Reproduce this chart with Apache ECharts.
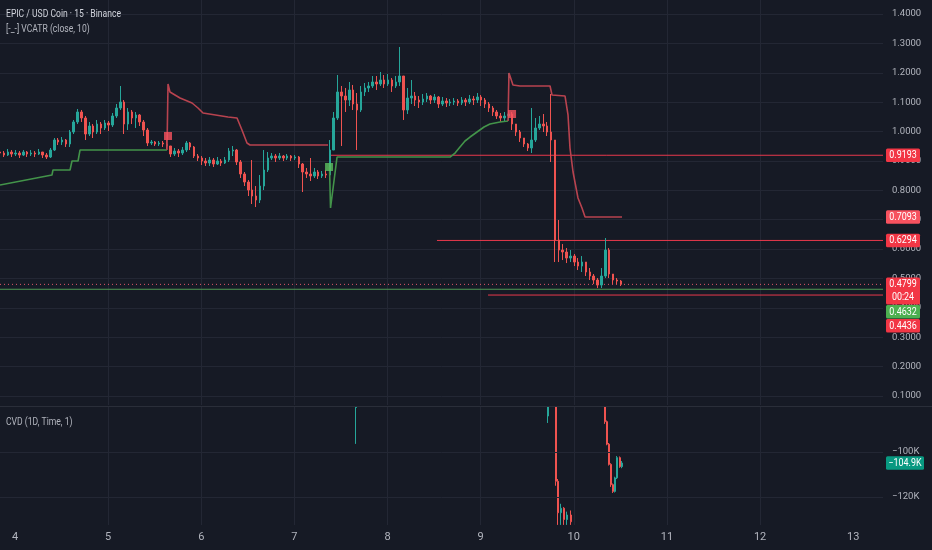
<!DOCTYPE html>
<html><head><meta charset="utf-8">
<script src="https://cdn.jsdelivr.net/npm/echarts@6/dist/echarts.min.js"></script>
<style>html,body{margin:0;padding:0;background:#161a25;}#c{width:932px;height:550px;}</style>
</head><body><div id="c"></div>
<script>
// ---- data ----
const t0 = 3.839;            // day of first hourly candle
const step = 1 / 24;         // one hour
const firstOpen = 0.9303;
const close = [
0.9269,0.9201,0.9303,0.9235,0.9269,0.9201,0.9303,0.9235,0.9269,0.9235,
0.9303,0.9201,0.9133,0.9371,0.9712,0.9644,0.9712,0.9576,0.9984,1.0325,
1.0665,1.0461,0.9916,1.0188,0.9984,1.0256,1.0120,1.0291,1.0222,1.0529,
1.0801,1.1005,1.0256,1.0665,1.0461,1.0563,1.0325,1.0052,0.9610,0.9644,
0.9576,0.9610,0.9576,0.9508,0.9235,0.9337,0.9269,0.9371,0.9610,0.9474,
0.9167,0.9099,0.8997,0.8929,0.9031,0.8895,0.8997,0.8929,0.9031,0.9337,
0.9371,0.8963,0.8555,0.8282,0.8010,0.7806,0.7670,0.8146,0.8691,0.9099,
0.9167,0.9099,0.9167,0.9099,0.9167,0.9099,0.9133,0.8895,0.8623,0.8555,
0.8487,0.8623,0.8487,0.8555,0.8521,0.9371,1.0461,1.1346,1.1209,1.1073,
1.1414,1.0937,1.0733,1.1346,1.1482,1.1550,1.1686,1.1618,1.1754,1.1618,
1.1754,1.1550,1.1686,1.1890,1.0733,1.1141,1.1209,1.1073,1.1005,1.1107,
1.1209,1.1073,1.1175,1.0937,1.1039,1.0971,1.1005,1.1039,1.0971,1.1073,
1.1005,1.1107,1.1073,1.1175,1.1073,1.0937,1.0801,1.0665,1.0529,1.0461,
1.0529,1.0597,1.0256,0.9984,0.9780,0.9576,0.9440,0.9712,1.0120,1.0256,
1.0188,0.9984,0.9712,0.6308,0.5968,0.5900,0.5695,0.5763,0.5559,0.5423,
0.5559,0.5219,0.5083,0.4947,0.4776,0.5083,0.5968,0.5151,0.4947,0.4913,0.4799];
const high = [
0.9371,0.9337,0.9406,0.9371,0.9371,0.9337,0.9371,0.9337,0.9371,0.9337,
0.9406,0.9303,0.9269,0.9440,0.9780,0.9780,0.9814,0.9746,1.0052,1.0393,
1.0767,1.0733,1.0529,1.0325,1.0256,1.0393,1.0325,1.0393,1.0359,1.0631,
1.0937,1.1550,1.1073,1.0801,1.0733,1.0665,1.0597,1.0393,1.0120,0.9712,
0.9678,0.9678,0.9678,0.9712,0.9508,0.9440,0.9406,0.9474,0.9678,0.9644,
0.9508,0.9235,0.9167,0.9099,0.9133,0.9099,0.9133,0.9065,0.9133,0.9440,
0.9508,0.9406,0.9031,0.8623,0.8350,0.9031,0.8146,0.8521,0.9371,0.9303,
0.9269,0.9235,0.9269,0.9201,0.9235,0.9201,0.9201,0.9167,0.8929,0.8759,
0.9099,0.8759,0.8691,0.8657,0.8691,0.9712,1.0665,1.1924,1.1550,1.1482,
1.1686,1.1584,1.1312,1.1550,1.1652,1.1686,1.1890,1.1890,1.2026,1.1924,
1.1958,1.1822,1.1890,1.2877,1.1890,1.1482,1.1754,1.1346,1.1209,1.1278,
1.1312,1.1244,1.1278,1.1209,1.1175,1.1141,1.1107,1.1141,1.1107,1.1175,
1.1141,1.1244,1.1209,1.1312,1.1244,1.1141,1.1005,1.0869,1.0733,1.0631,
1.0665,1.1992,1.0665,1.0256,1.0052,0.9780,0.9610,1.0801,1.0461,1.0529,
1.0597,1.0325,1.1278,0.9712,0.6989,0.6172,0.6036,0.5968,0.5832,0.5695,
0.5763,0.5559,0.5355,0.5151,0.5015,0.5355,0.6376,0.6036,0.5151,0.5015,0.4947];
const low = [
0.9167,0.9133,0.9167,0.9133,0.9167,0.9099,0.9167,0.9133,0.9167,0.9133,
0.9201,0.9099,0.9065,0.9099,0.9337,0.9542,0.9542,0.9474,0.9474,0.9916,
1.0256,1.0325,0.9712,0.9848,0.9780,0.9916,0.9916,1.0052,1.0018,1.0154,
1.0461,1.0733,0.9916,1.0052,1.0256,1.0120,1.0188,0.9848,0.9508,0.9542,
0.9508,0.9508,0.9474,0.9406,0.9133,0.9167,0.9133,0.9201,0.9303,0.9371,
0.9099,0.8997,0.8861,0.8827,0.8827,0.8793,0.8861,0.8827,0.8895,0.8963,
0.9167,0.8861,0.8419,0.8146,0.7806,0.7534,0.7431,0.7568,0.8010,0.8623,
0.9031,0.8963,0.9031,0.8997,0.9031,0.8997,0.9031,0.8759,0.7942,0.8419,
0.8316,0.8419,0.8384,0.8419,0.8419,0.8487,0.9371,1.0393,0.9508,1.0665,
1.0869,1.0733,0.9371,1.0665,1.1209,1.1346,1.1482,1.1414,1.1550,1.1482,
1.1550,1.1346,1.1482,1.1550,1.0393,1.0597,1.0937,1.0869,1.0801,1.0903,
1.1005,1.0937,1.0971,1.0801,1.0869,1.0835,1.0869,1.0903,1.0869,1.0903,
1.0869,1.0937,1.0903,1.0971,1.0869,1.0801,1.0665,1.0529,1.0427,1.0325,
1.0325,1.0393,1.0052,0.9848,0.9644,0.9474,0.9337,0.9269,0.9644,1.0052,
0.9984,0.9848,0.8963,0.5559,0.5559,0.5627,0.5525,0.5559,0.5423,0.5287,
0.5219,0.5083,0.4947,0.4810,0.4674,0.4674,0.5015,0.5015,0.4810,0.4810,0.4742];

// VCATR trailing stop, [day, price]
const stopUpA = [[3.839,0.8180],[4.397,0.8521],[4.408,0.8691],[4.591,0.8691],[4.612,0.8997],[4.677,0.8997],[4.698,0.9371],[5.632,0.9371]];
const stopUpB = [[7.377,0.8793],[7.388,0.7398],[7.458,0.9133],[8.671,0.9133],[8.725,0.9269],[8.778,0.9474],[8.832,0.9678],[8.886,0.9814],[8.961,0.9984],[9.036,1.0154],[9.100,1.0256],[9.208,1.0325],[9.294,1.0359]];
const stopDownA = [[5.632,0.9371],[5.643,1.1618],[5.664,1.1346],[5.772,1.1141],[5.901,1.0971],[5.965,1.0801],[6.019,1.0631],[6.287,1.0495],[6.384,1.0461],[6.437,1.0052],[6.491,0.9610],[6.523,0.9542],[7.361,0.9542]];
const stopDownB = [[9.294,1.0359],[9.304,1.1992],[9.347,1.1584],[9.422,1.1550],[9.745,1.1550],[9.766,1.1244],[9.906,1.1209],[9.938,1.0563],[9.959,0.9440],[9.992,0.8623],[10.045,0.7738],[10.088,0.7398],[10.121,0.7093],[10.518,0.7093]];
const flipDown = [[5.643,0.9848],[9.337,1.0597]];
const flipUp = [[7.372,0.8793]];
const stopLast = 0.7093;

// horizontal levels
const levels = [0.9193, 0.6294, 0.4436];
const levelStart = [7.39, 8.531, 9.079];
const lastPrice = 0.4799;
const countdown = '00:24';
const supportLevel = 0.4632;

// CVD pane candles (values above the pane top are read as the top edge, -80K)
const cvdT = [7.662,9.723,9.809,9.831,9.863,9.895,9.927,9.970,10.335,10.357,10.378,10.400,10.421,10.443,10.464,10.496,10.518];
const cvdO = [-80200,-84000,-80000,-113000,-127000,-125000,-130000,-128000,-80000,-86500,-96500,-105500,-114500,-117500,-111500,-102500,-106500];
const cvdC = [-80000,-80000,-113000,-127000,-125000,-130000,-128000,-131000,-86500,-96500,-105500,-114500,-117500,-111500,-102500,-106500,-104900];
const cvdL = [-96400,-87100,-115000,-132400,-132400,-132400,-132400,-132400,-87500,-97000,-106000,-115500,-118200,-118000,-112000,-107000,-107200];
const cvdH = [-80000,-80000,-80000,-112000,-123000,-124500,-126500,-126000,-80000,-86000,-96000,-105000,-114000,-111000,-101800,-102000,-104000];
const cvdTicks = [-100000, -120000];
const cvdLast = -104900;

// axes
const xMin = 3.839, xMax = 13.32;
const dayTicks = [4, 5, 6, 7, 8, 9, 10, 11, 12, 13];
const priceMin = 0.1, priceMax = 1.4, priceStep = 0.1;
const cvdMin = -132444, cvdMax = -80000;

// ---- styles ----
const BG = '#161a25', GRID = '#232734', TXT = '#b2b5be';
const UP = '#26a69a', DOWN = '#ef5350';
const RED = '#f23645', RED2 = '#f7525f', GREEN = '#4caf50', TEAL = '#089981';
const FONT = "Roboto,'Liberation Sans',sans-serif";
const L = 0, R = 49;

const candles = close.map((c, i) => {
  const o = i ? close[i - 1] : firstOpen;
  return [t0 + i * step, o, c, Math.min(low[i], o, c), Math.max(high[i], o, c)];
});
const cvdData = cvdT.map((t, i) => [t, cvdO[i], cvdC[i], cvdL[i], cvdH[i]]);

function xAxisFor(gi, labels, split) {
  return {gridIndex: gi, type: 'value', min: xMin, max: xMax,
    axisLine: {show: false},
    axisTick: {show: false, customValues: dayTicks},
    axisLabel: {show: labels, customValues: dayTicks, color: TXT, fontSize: 11, fontFamily: FONT, margin: 7},
    splitLine: {show: split, showMinLine: false, showMaxLine: false, lineStyle: {color: GRID}}};
}

function lineSeries(data, color, width, type, z) {
  return {type: 'line', xAxisIndex: 0, yAxisIndex: 0, data: data, symbol: 'none', showSymbol: false,
    silent: true, animation: false, z: z || 3,
    lineStyle: {color: color, width: width, type: type || 'solid'}};
}

const series = [
  {type: 'candlestick', xAxisIndex: 0, yAxisIndex: 0, data: candles, encode: {x: 0, y: [1, 2, 3, 4]},
   barWidth: 2, silent: true, animation: false, z: 2,
   itemStyle: {color: UP, color0: DOWN, borderColor: UP, borderColor0: DOWN, borderWidth: 1}},
  lineSeries([[xMin, supportLevel], [xMax, supportLevel]], '#4f9a54', 1, 'solid', 1),
  lineSeries([[xMin, lastPrice], [xMax, lastPrice]], '#e0566a', 1, [1, 3], 1),
];
levels.forEach((v, k) => series.push(lineSeries([[levelStart[k], v], [xMax, v]], '#e8394c', 1, 'solid', 1)));
series.push(lineSeries(stopUpA, '#43944a', 1.6));
series.push(lineSeries(stopUpB, '#43944a', 1.6));
series.push(lineSeries(stopDownA, '#b8434f', 1.6));
series.push(lineSeries(stopDownB, '#b8434f', 1.6));
series.push({type: 'scatter', xAxisIndex: 0, yAxisIndex: 0, data: flipDown, symbol: 'rect', symbolSize: 8,
  itemStyle: {color: '#f7525f'}, silent: true, animation: false, z: 5});
series.push({type: 'scatter', xAxisIndex: 0, yAxisIndex: 0, data: flipUp, symbol: 'rect', symbolSize: 8,
  itemStyle: {color: '#5cc15f'}, silent: true, animation: false, z: 5});
series.push({type: 'candlestick', xAxisIndex: 1, yAxisIndex: 1, data: cvdData, encode: {x: 0, y: [1, 2, 3, 4]},
  barWidth: 1.5, silent: true, animation: false, clip: true,
  itemStyle: {color: UP, color0: DOWN, borderColor: UP, borderColor0: DOWN, borderWidth: 1},
  markLine: {silent: true, symbol: 'none', animation: false, label: {show: false},
    lineStyle: {color: GRID, type: 'solid', width: 1},
    data: cvdTicks.map(v => ({yAxis: v}))}});
series.push({type: 'line', xAxisIndex: 2, yAxisIndex: 2, data: [], silent: true});

const option = {
  backgroundColor: BG,
  animation: false,
  grid: [
    {left: L, right: R, top: 14, height: 382},
    {left: L, right: R, top: 407, height: 118},
    {left: L, right: R, top: 0, height: 405}
  ],
  xAxis: [xAxisFor(0, false, false), xAxisFor(1, true, true), xAxisFor(2, false, true)],
  yAxis: [
    {gridIndex: 0, type: 'value', position: 'right', min: priceMin, max: priceMax, interval: priceStep,
     axisLine: {show: false}, axisTick: {show: false},
     axisLabel: {color: TXT, fontSize: 9.5, fontFamily: FONT, margin: 9, formatter: v => v.toFixed(4)},
     splitLine: {show: true, lineStyle: {color: GRID}}},
    {gridIndex: 1, type: 'value', position: 'right', min: cvdMin, max: cvdMax,
     axisLine: {show: false}, axisTick: {show: false}, splitLine: {show: false},
     axisLabel: {color: TXT, fontSize: 9.5, fontFamily: FONT, margin: 9, customValues: cvdTicks,
       formatter: v => '\u2212' + Math.abs(Math.round(v / 1000)) + 'K'}},
    {gridIndex: 2, type: 'value', show: false, min: 0, max: 1}
  ],
  series: series
};

const chart = echarts.init(document.getElementById('c'));
chart.setOption(option);

// ---- overlays: legends, separator, price tags ----
const g = [];
g.push({type: 'line', shape: {x1: 0, y1: 406.5, x2: 932, y2: 406.5}, style: {stroke: '#2a2e39', lineWidth: 1}, z: 50});
function txt(x, y, s, color, size, align, sx) {
  return {type: 'text', x: x, y: y, z: 120, scaleX: sx || 1,
    style: {text: s, fill: color, font: size + 'px ' + FONT, align: align || 'left', textAlign: align || 'left',
      verticalAlign: 'middle', textVerticalAlign: 'middle'}};
}
g.push(txt(6, 14.5, 'EPIC / USD Coin \u00b7 15 \u00b7 Binance', '#d1d4dc', 11, 'left', 0.78));
g.push(txt(6, 29.5, '[-_-] VCATR (close, 10)', TXT, 11, 'left', 0.78));
g.push(txt(6, 422.5, 'CVD (1D, Time, 1)', TXT, 11, 'left', 0.78));

const tags = [
  {v: levels[0], color: RED},
  {v: stopLast, color: RED2},
  {v: levels[1], color: RED},
  {v: lastPrice, color: RED, sub: countdown},
  {v: supportLevel, color: GREEN},
  {v: levels[2], color: RED}
].map(t => Object.assign(t, {y: chart.convertToPixel({yAxisIndex: 0}, t.v)}))
 .sort((a, b) => a.y - b.y);
let prevBottom = -1e9;
tags.forEach(t => {
  const h = t.sub ? 27 : 13.5;
  const top = Math.max(t.y - 6.75, prevBottom + 0.5);
  prevBottom = top + h;
  g.push({type: 'rect', z: 110, shape: {x: 886, y: top, width: 34, height: h, r: 1.5}, style: {fill: t.color}});
  g.push(txt(903, top + 6.9, t.v.toFixed(4), '#ffffff', 10.5, 'center', 0.85));
  if (t.sub) g.push(txt(903, top + 20.2, t.sub, '#ffffff', 10.5, 'center', 0.85));
});
const cy = chart.convertToPixel({yAxisIndex: 1}, cvdLast);
g.push({type: 'rect', z: 110, shape: {x: 886, y: cy - 6.75, width: 38, height: 13.5, r: 1.5}, style: {fill: TEAL}});
g.push(txt(905, cy + 0.1, '\u2212' + Math.abs(cvdLast / 1000).toFixed(1) + 'K', '#ffffff', 10.5, 'center', 0.85));
chart.setOption({graphic: {elements: g}});
</script></body></html>
